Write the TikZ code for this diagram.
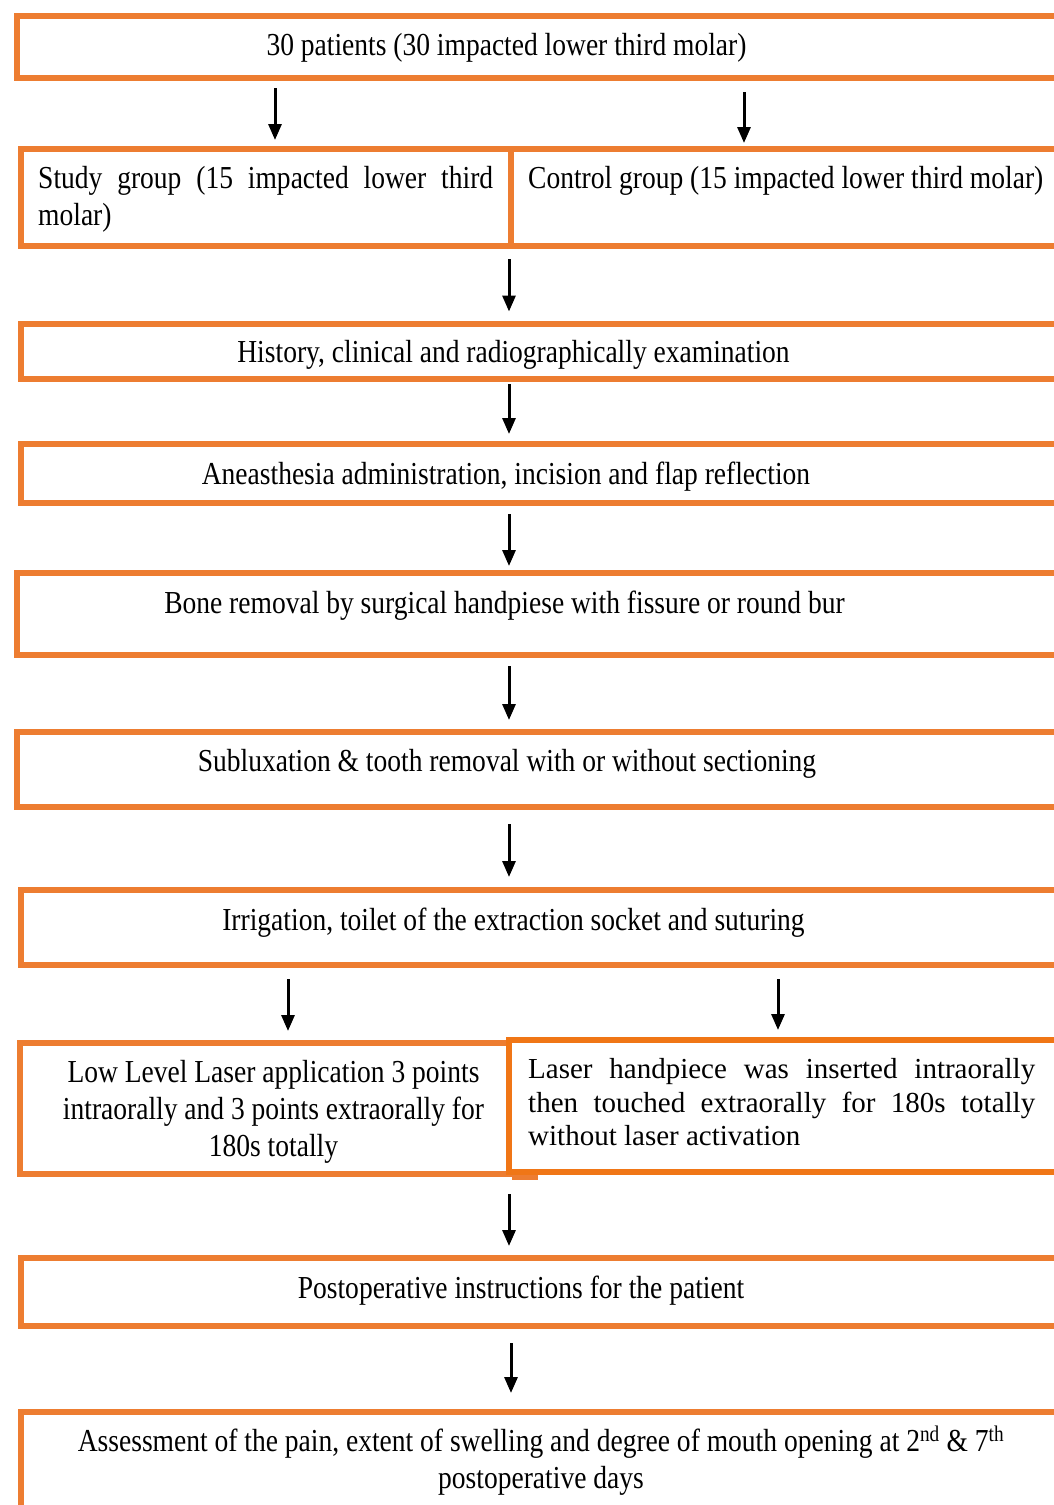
\documentclass[tikz,border=0pt]{standalone}
\usepackage{fontspec}
\setmainfont{Liberation Serif}[FakeStretch=0.86]
\newfontfamily\plainserif{Liberation Serif}
\usepackage{xcolor}
\usetikzlibrary{arrows.meta,positioning}
\definecolor{orng}{RGB}{237,125,49}
\definecolor{orngdeep}{RGB}{240,118,22}
\tolerance=9999
\hyphenpenalty=10000

\begin{document}
\begin{tikzpicture}[x=1pt,y=-1pt,>={Triangle[width=13pt,length=16pt]},
  stage/.style={draw=orng,line width=6pt,inner sep=0pt,anchor=north west},
  txt/.style={font=\fontsize{32}{37}\selectfont,inner sep=0pt},
  flow/.style={->,line width=3pt}]
\clip (0,0) rectangle (1054,1505);
\foreach \nm/\x/\y/\w/\h in {patients/14/13/1066/61.5, study/18/145.5/490/97.5,
                            control/508/145.5/572/97.5, history/18/321/1062/55,
                            anaes/18/441/1062/59, bone/14/570/1066/81.5,
                            sublux/14/729/1066/75, irrig/17.5/886.5/1062.5/75.5,
                            laser/17/1040/489/131, postop/17.5/1255/1062.5/67.5,
                            assess/17.5/1408.5/1062.5/150}
  \node[stage,minimum width=\w,minimum height=\h] (\nm) at (\x,\y) {};
\draw[orng,line width=6pt] (laser.south east) -- ++(26,0);
\node[stage,draw=orngdeep,minimum width=574,minimum height=132] (sham) at (506,1037) {};

\node[txt,anchor=base] (patients-t) at (506.5,55) {30 patients (30 impacted lower third molar)};
\node[txt,anchor=base west,text width=455pt,align=justify] (study-t) at (38,188)
  {Study group (15 impacted lower third molar)};
\node[txt,anchor=base west] (control-t) at (528,188) {Control group (15 impacted lower third molar)};
\node[txt,anchor=base] (history-t) at (513.5,362) {History, clinical and radiographically examination};
\node[txt,anchor=base] (anaes-t) at (506,484) {Aneasthesia administration, incision and flap reflection};
\node[txt,anchor=base] (bone-t) at (504.5,613) {Bone removal by surgical handpiese with fissure or round bur};
\node[txt,anchor=base] (sublux-t) at (507,771) {Subluxation \& tooth removal with or without sectioning};
\node[txt,anchor=base] (irrig-t) at (513.5,930) {Irrigation, toilet of the extraction socket and suturing};
\node[txt,anchor=base,text width=440pt,align=flush center] (laser-t) at (273.5,1082)
  {Low Level Laser application 3 points\\ intraorally and 3 points extraorally for\\ 180s totally};
\node[txt,font=\plainserif\fontsize{29}{33.5}\selectfont,anchor=base west,text width=507pt,align=justify]
  (sham-t) at (528,1078.5)
  {Laser handpiece was inserted intraorally then touched extraorally for 180s totally without laser activation};
\node[txt,anchor=base] (postop-t) at (521,1298) {Postoperative instructions for the patient};
\node[txt,anchor=base,align=flush center] (assess-t) at (541,1488)
  {Assessment of the pain, extent of swelling and degree of mouth opening at 2\textsuperscript{nd} \& 7\textsuperscript{th}\\ postoperative days};

\foreach \a/\ax/\b/\bx/\s/\e in {patients/261/study/257/7.5/5.5, patients/730/control/236/11.5/2.5,
                                study/491/history/491/10/9.5, history/491/anaes/491/2/7,
                                anaes/491/bone/495/8/4, bone/495/sublux/495/8.5/9,
                                sublux/495/irrig/491.5/14/9.5, irrig/270.5/laser/271/11/9,
                                irrig/760.5/sham/272/11/7, sham/3/postop/491.5/19/9,
                                postop/493.5/assess/493.5/14.5/15.5}
  \draw[flow,shorten <=\s pt,shorten >=\e pt] ([xshift=\ax pt]\a.south west) -- ([xshift=\bx pt]\b.north west);
\end{tikzpicture}
\end{document}
